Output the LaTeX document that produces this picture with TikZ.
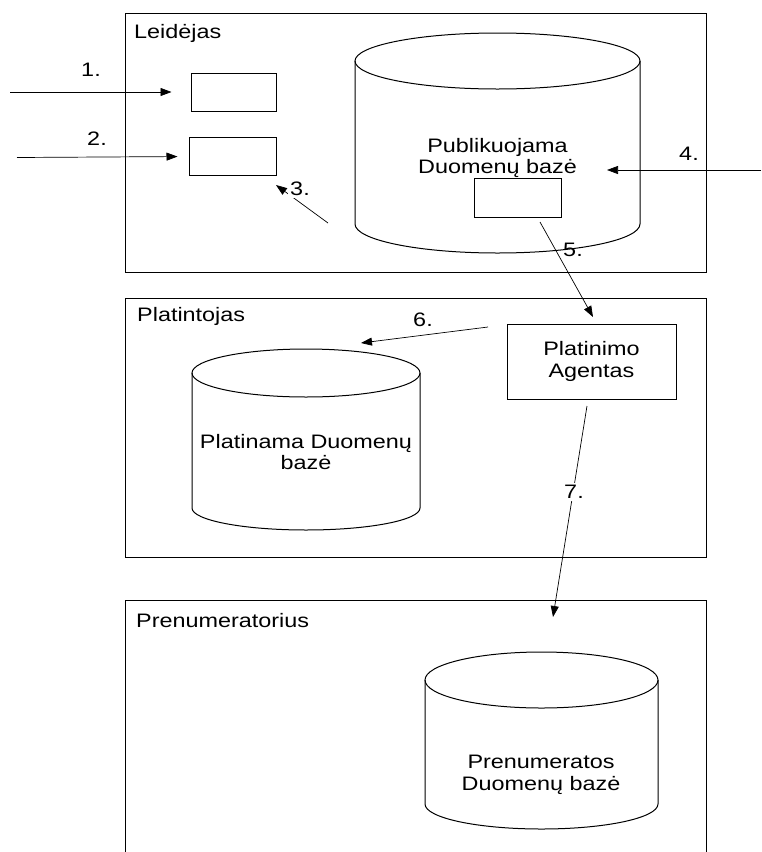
\documentclass[tikz,border=0pt]{standalone}
\usepackage{fontspec}
\setmainfont{Liberation Sans}[FakeStretch=1.2]
\usetikzlibrary{arrows.meta,calc}
\newcommand\dbcylinder[6]{%
  \draw[cylline] (#1,#3) -- (#1,#5) arc[start angle=180,end angle=0,x radius={(#2-#1)/2},y radius=#6] -- (#2,#3);
  \draw[cylline] ({(#1+#2)/2},#3) ellipse[x radius={(#2-#1)/2},y radius=#4];
}
\begin{document}
\begin{tikzpicture}[x=1pt,y=-1pt,
  every node/.style={inner sep=0pt,font=\fontsize{19.5}{21.5}\selectfont},
  frame/.style={draw,line width=1pt,rectangle},
  smallbox/.style={draw,line width=1pt,rectangle},
  cylline/.style={line width=1pt},
  arr/.style={line width=0.7pt,-{Triangle[length=11pt,width=8pt]}},
  numlbl/.style={fill=white,inner sep=2pt},
  txt/.style={align=center}]
\useasboundingbox (0,0) rectangle (761,852);

% Leidejas
\node[frame,minimum width=581pt,minimum height=259pt] (leid) at (415.5,142.5) {};
\node[anchor=base west] (leidlbl) at (134,38) {Leidėjas};
\node[smallbox,minimum width=85pt,minimum height=38pt] (box1) at (233.5,92) {};
\node[smallbox,minimum width=87pt,minimum height=38pt] (box2) at (232.5,156.5) {};
\dbcylinder{355}{640}{61}{28}{224}{29}
\node[txt] (pubdb) at (497.5,158) {Publikuojama\\Duomenų bazė};
\node[smallbox,minimum width=87pt,minimum height=39pt] (inner) at (517.5,197.5) {};

% Platintojas
\node[frame,minimum width=581pt,minimum height=259pt] (plat) at (415.5,427.5) {};
\node[anchor=base west] (platlbl) at (137,321) {Platintojas};
\node[smallbox,txt,minimum width=169pt,minimum height=75pt] (agent) at (591.5,361.5) {Platinimo\\[1pt]Agentas};
\dbcylinder{192}{420}{373}{24}{508}{22}
\node[txt] (platdb) at (306,452) {Platinama Duomenų\\bazė};

% Prenumeratorius
\coordinate (pbl) at (125,853);
\coordinate (ptl) at (125,600);
\coordinate (ptr) at (706,600);
\coordinate (pbr) at (706,853);
\draw[line width=1pt] (pbl) -- (ptl) -- (ptr) -- (pbr);
\node[anchor=base west] (prenlbl) at (136,627) {Prenumeratorius};
\dbcylinder{425}{658}{680}{28}{804}{25}
\node[txt] (prendb) at (541,775) {Prenumeratos\\Duomenų bazė};

% connectors
\coordinate (s1) at (10,92);
\coordinate (s2) at (17,157.5);
\coordinate (s3) at (328,223);
\coordinate (t3) at (276,185);
\coordinate (s4) at (761,170);
\coordinate (t4) at (607,170);
\coordinate (s5) at (540,222);
\coordinate (t5) at (593,317);
\coordinate (s6) at (488,327);
\coordinate (t6) at (361,343);
\coordinate (s7) at (587,406);
\coordinate (t7) at (553,617);
\draw[arr,shorten >=19pt] (s1) -- (box1.west);
\draw[arr,shorten >=11pt] (s2) -- (box2.west);
\draw[arr] (s3) -- (t3);
\draw[arr] (s4) -- (t4);
\draw[arr] (s5) -- (t5);
\draw[arr] (s6) -- (t6);
\draw[arr] (s7) -- (t7);

% numbers
\node (n1) at (91,70) {1.};
\node (n2) at (97,139) {2.};
\node[numlbl] (n3) at (300,189) {3.};
\node (n4) at (689,154) {4.};
\node (n5) at (573,250) {5.};
\node (n6) at (423,320) {6.};
\node[numlbl] (n7) at (574,492) {7.};
\end{tikzpicture}
\end{document}
